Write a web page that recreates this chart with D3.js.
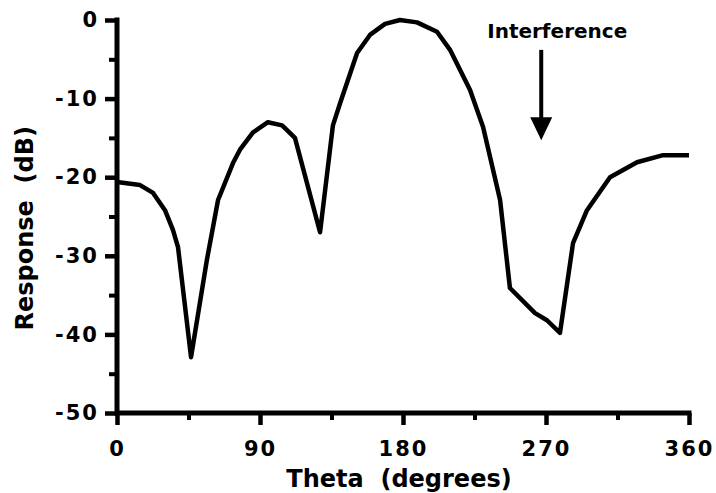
<!DOCTYPE html>
<html>
<head>
<meta charset="utf-8">
<script src="https://cdn.jsdelivr.net/npm/d3@7"></script>
<style>
  body { margin: 0; background: #fff; }
  text { font-family: "DejaVu Sans", sans-serif; font-weight: bold; fill: #000; }
</style>
</head>
<body>
<div id="chart"><svg></svg></div>
<script>
// beam pattern
const theta = [0, 14.5, 22.7, 30.2, 35.2, 38.4, 46.6, 56.6, 63.6, 73, 77.4, 85.6, 95, 103.9, 112,
  127.8, 135.9, 140.4, 151.1, 159.2, 168.7, 178.1, 188.8, 201.4, 209.6, 222.2, 230.4, 241.1,
  247.3, 263.1, 270.6, 278.8, 287, 295.8, 310.3, 327.3, 343.7, 360];
const response = [-20.6, -21, -22, -24.2, -26.7, -28.9, -42.9, -30.5, -22.9, -18.2, -16.5, -14.3, -13, -13.4, -15,
  -27, -13.4, -10.6, -4.2, -1.9, -0.5, 0, -0.3, -1.5, -3.8, -8.9, -13.6, -22.9,
  -34.1, -37.3, -38.2, -39.8, -28.4, -24.2, -20, -18.1, -17.2, -17.2];
const xTicks = [0, 90, 180, 270, 360];
const xMinor = [45, 135, 225, 315];
const yTicks = [0, -10, -20, -30, -40, -50];
const yMinor = [-5, -15, -25, -35, -45];
const interference = { theta: 267, top: -3.8, tip: -15.3, label: "Interference" };

const width = 716, height = 493;
const margin = { top: 20, right: 27, bottom: 80, left: 117 };
const w = width - margin.left - margin.right;
const h = height - margin.top - margin.bottom;

let svg = d3.select("#chart").select("svg")
  .attr("width", width)
  .attr("height", height);

let x = d3.scaleLinear().domain([0, 360]).range([0, w]);
let y = d3.scaleLinear().domain([-50, 0]).range([h, 0]);

let g = svg.append("g").attr("transform", `translate(${margin.left},${margin.top})`);

// minor ticks first
g.append("g")
  .attr("transform", `translate(0,${h})`)
  .call(d3.axisBottom(x).tickValues(xMinor).tickSize(7).tickFormat(""))
  .call(a => a.select(".domain").remove())
  .call(a => a.selectAll("line").attr("stroke-width", 4));
g.append("g")
  .call(d3.axisLeft(y).tickValues(yMinor).tickSize(8).tickFormat(""))
  .call(a => a.select(".domain").remove())
  .call(a => a.selectAll("line").attr("stroke-width", 4));

let fmt = d => String(d); // plain hyphen like the original

let xAxis = g.append("g")
  .attr("transform", `translate(0,${h})`)
  .call(d3.axisBottom(x).tickValues(xTicks).tickFormat(fmt).tickSize(12).tickPadding(12));
let yAxis = g.append("g")
  .call(d3.axisLeft(y).tickValues(yTicks).tickFormat(fmt).tickSize(12).tickPadding(6));

[xAxis, yAxis].forEach(a => {
  a.select(".domain").remove();
  a.selectAll(".tick line").attr("stroke-width", 4.5);
  a.selectAll("text")
    .style("font-size", "21px")
    .style("font-family", "DejaVu Sans, sans-serif")
    .style("font-weight", "bold")
    .style("letter-spacing", "2px");
});
xAxis.selectAll("text").attr("dy", "0.9em");

// heavy axis lines
g.append("path")
  .attr("d", `M0,${y(0)}V${h}H${w}`)
  .attr("fill", "none")
  .attr("stroke", "#000")
  .attr("stroke-width", 5)
  .attr("stroke-linecap", "square");

// the curve
let line = d3.line()
  .x((d, i) => x(theta[i]))
  .y(d => y(d));

g.append("path")
  .datum(response)
  .attr("fill", "none")
  .attr("stroke", "#000")
  .attr("stroke-width", 4.5)
  .attr("stroke-linejoin", "round")
  .attr("d", line);

// interference arrow
let ax = x(interference.theta);
let headBase = y(interference.tip) - 23;
g.append("line")
  .attr("x1", ax).attr("x2", ax)
  .attr("y1", y(interference.top)).attr("y2", headBase + 2)
  .attr("stroke", "#000").attr("stroke-width", 4);
g.append("path")
  .attr("d", `M${ax - 11},${headBase}L${ax + 11},${headBase}L${ax},${y(interference.tip)}Z`)
  .attr("fill", "#000");
g.append("text")
  .attr("x", ax + 16)
  .attr("y", y(interference.top) - 12)
  .attr("text-anchor", "middle")
  .style("font-size", "20px")
  .text(interference.label);

// axis titles
svg.append("text")
  .attr("x", margin.left + x(180) - 4)
  .attr("y", 487)
  .attr("text-anchor", "middle")
  .style("font-size", "24px")
  .attr("xml:space", "preserve")
  .text("Theta  (degrees)");

svg.append("text")
  .attr("transform", `translate(33,${margin.top + y(-26.5)}) rotate(-90)`)
  .attr("text-anchor", "middle")
  .style("font-size", "24px")
  .attr("xml:space", "preserve")
  .text("Response  (dB)");
</script>
</body>
</html>
